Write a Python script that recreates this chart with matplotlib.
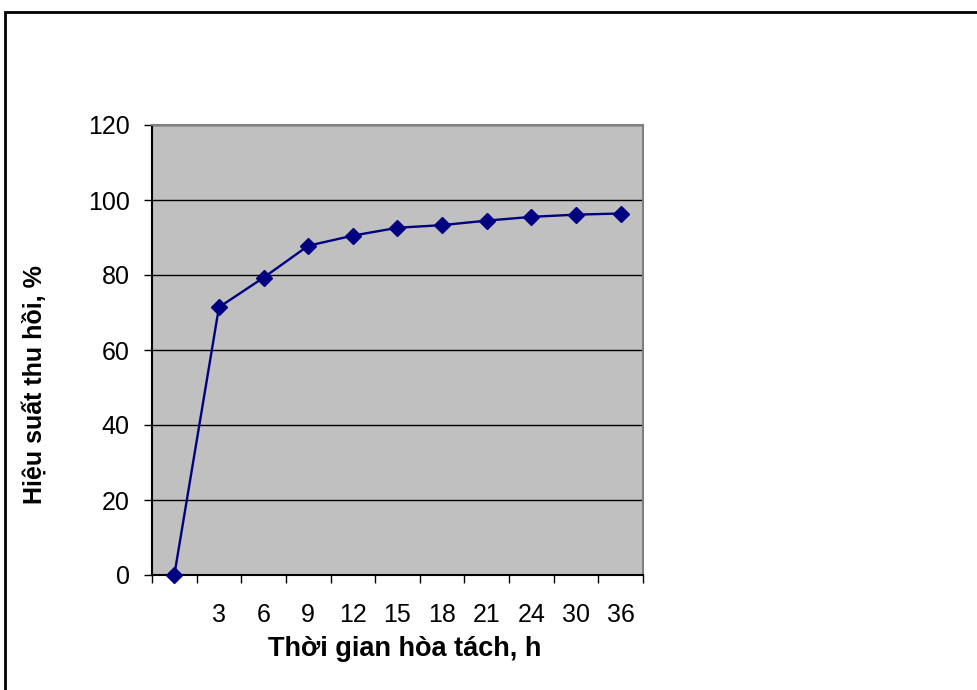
import matplotlib
matplotlib.use("Agg")
import matplotlib.pyplot as plt
import numpy as np
from matplotlib.patches import Rectangle

categories = ["", "3", "6", "9", "12", "15", "18", "21", "24", "30", "36"]
recovery = [0, 71.4, 79.3, 87.8, 90.5, 92.6, 93.3, 94.5, 95.5, 96.1, 96.4]
yticks = [0, 20, 40, 60, 80, 100, 120]

plt.rcParams['font.family'] = ['Liberation Sans', 'DejaVu Sans']

fig = plt.figure(figsize=(9.78, 6.90), dpi=100)
fig.patch.set_facecolor('white')

# outer frame
fig.patches.append(Rectangle((5/978, -0.05), 1.1, 1 - 12/690 + 0.05,
                             transform=fig.transFigure, fill=False,
                             edgecolor='black', linewidth=2))

ax = fig.add_axes([152/978, 1 - 575/690, (643 - 152)/978, (575 - 125)/690])
ax.set_facecolor('#C0C0C0')
x = np.arange(len(categories))
ax.plot(x, recovery, color='#000080', linewidth=1.7, marker='D',
        markersize=8.5, markerfacecolor='#000080', markeredgecolor='#000080',
        zorder=3, clip_on=False)

ax.set_xlim(-0.5, len(categories) - 0.5)
ax.set_ylim(0, 120)
ax.set_yticks(yticks)
ax.set_yticklabels([str(v) for v in yticks])
ax.set_xticks(x)
ax.set_xticklabels(categories)
ax.set_xticks(np.arange(len(categories) + 1) - 0.5, minor=True)
ax.tick_params(axis='x', which='major', length=0, pad=20, labelsize=18)
ax.tick_params(axis='x', which='minor', length=6, width=1, color='black', direction='out')
ax.tick_params(axis='y', which='major', length=6, width=1, color='black',
               direction='out', pad=10, labelsize=18)

ax.grid(axis='y', color='black', linewidth=1)
ax.set_axisbelow(True)
for s in ax.spines.values():
    s.set_color('#808080')
    s.set_linewidth(1.5)
ax.spines['bottom'].set_color('black')
ax.spines['left'].set_color('black')

ax.set_xlabel("Thời gian hòa tách, h", fontsize=19.5, fontweight='bold')
ax.set_ylabel("Hiệu suất thu hồi, %", fontsize=18, fontweight='bold')
ax.xaxis.set_label_coords(0.515, -0.136)
ax.yaxis.set_label_coords(-0.214, 0.424)

fig.savefig("out.png", dpi=100)
